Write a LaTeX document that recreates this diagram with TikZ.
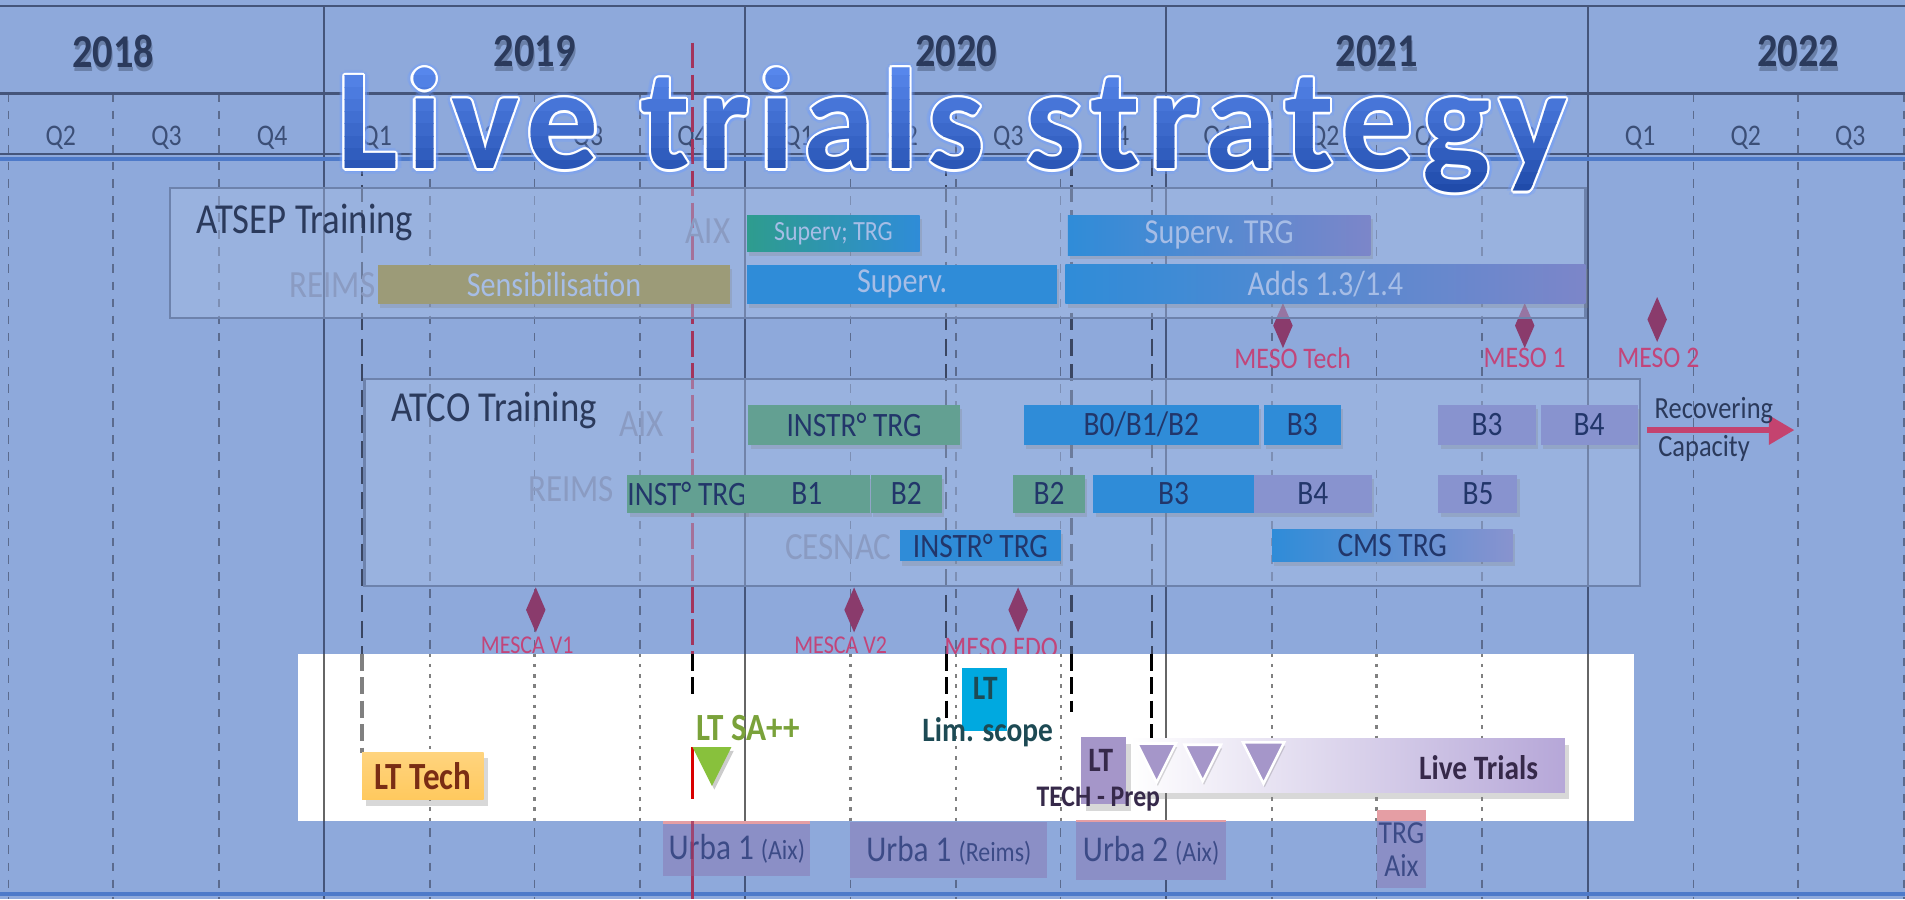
\documentclass[tikz,border=0pt]{standalone}
\usepackage{fontspec}
\setmainfont{Carlito}[FakeStretch=0.86]
\newfontfamily\titlefont{Carlito}[LetterSpace=6.2]
\usetikzlibrary{shapes.geometric,shadows,arrows.meta,calc}
\definecolor{bgblue}{HTML}{8EA9DB}
\definecolor{gridink}{HTML}{45557A}
\definecolor{dashink}{HTML}{5B6B8E}
\definecolor{markink}{HTML}{3A4662}
\definecolor{redink}{HTML}{A3345C}
\definecolor{yearink}{HTML}{2B3A5C}
\definecolor{quarterink}{HTML}{3C4F77}
\definecolor{headblue}{HTML}{4E7AC9}
\definecolor{boxfill}{HTML}{A8BDE4}
\definecolor{boxedge}{HTML}{6D82AC}
\definecolor{siteink}{HTML}{8A9BC2}
\definecolor{lightink}{HTML}{A6BDE6}
\definecolor{darkink}{HTML}{22366A}
\definecolor{tealbar}{HTML}{2E9C8E}
\definecolor{barblue}{HTML}{2F8CD8}
\definecolor{barpurple}{HTML}{7C86C9}
\definecolor{olivebar}{HTML}{9C9B78}
\definecolor{greenbar}{HTML}{63A092}
\definecolor{lavbar}{HTML}{8893CF}
\definecolor{diamink}{HTML}{8A3B6C}
\definecolor{mileink}{HTML}{C2457A}
\definecolor{arrowink}{HTML}{C4436F}
\definecolor{lttechfill}{HTML}{FFC95E}
\definecolor{lttechink}{HTML}{7A2D14}
\definecolor{ltgreen}{HTML}{7AA23A}
\definecolor{trigreen}{HTML}{88C13C}
\definecolor{ltcyan}{HTML}{00A9E0}
\definecolor{limink}{HTML}{1D4A54}
\definecolor{lavfill}{HTML}{A596C9}
\definecolor{lavend}{HTML}{B6A7D8}
\definecolor{lavink}{HTML}{36294A}
\definecolor{urbafill}{HTML}{8B8FC6}
\definecolor{urbaink}{HTML}{3C4B87}
\definecolor{urbapink}{HTML}{E59EA4}
\definecolor{titletop}{HTML}{5787EC}
\definecolor{titlebottom}{HTML}{1A44A3}
\definecolor{titleglow}{HTML}{6E9CFF}
\newcommand{\boxat}[7]{%
  \node[#6, minimum width={(#4-#2)*0.01cm}, minimum height={(#5-#3)*0.01cm}] (#1) at ({(#2+#4)/2},{(#3+#5)/2}) {#7};}
\newcommand{\downtri}[4]{\filldraw[#4] ({#1-#3},{#2-#3}) -- ({#1+#3},{#2-#3}) -- (#1,{#2+#3}) -- cycle;}
\newcommand{\titlestr}{Live trials strategy}

\begin{document}
\begin{tikzpicture}[x=0.01cm, y=-0.01cm,
  every node/.style={inner sep=0pt, outer sep=0pt},
  yearlbl/.style={font=\fontsize{11}{13}\selectfont\bfseries, text=yearink},
  quarterlbl/.style={font=\fontsize{7}{8}\selectfont, text=quarterink},
  gridyear/.style={draw=gridink, line width=0.45pt},
  gridquarter/.style={draw=dashink, line width=0.4pt, dash pattern=on 2pt off 2pt},
  markline/.style={draw=markink, line width=0.5pt, dash pattern=on 4pt off 2pt},
  redline/.style={draw=redink, line width=0.6pt, dash pattern=on 6pt off 1.5pt},
  grpbox/.style={draw=boxedge, line width=0.5pt, fill=boxfill, fill opacity=0.45},
  grptitle/.style={font=\fontsize{10}{12}\selectfont, text=yearink},
  sitelbl/.style={font=\fontsize{9}{11}\selectfont, text=siteink},
  ganttbar/.style={drop shadow={shadow xshift=0.5pt, shadow yshift=-1pt, opacity=0.25},
    font=\fontsize{8}{9}\selectfont, text=darkink},
  atsepbar/.style={ganttbar, text=lightink, font=\fontsize{8.2}{9}\selectfont},
  milestone/.style={diamond, fill=diamink, minimum width=0.16cm, minimum height=0.37cm},
  milelbl/.style={font=\fontsize{7}{8}\selectfont, text=mileink},
  mescalbl/.style={font=\fontsize{6}{7}\selectfont, text=mileink},
  panelgrid/.style={draw=gray!80!black, line width=0.45pt},
  paneldot/.style={draw=gray, line width=0.5pt, dash pattern=on 0.8pt off 1.6pt},
  panelmark/.style={draw=black, line width=0.75pt, dash pattern=on 4pt off 1.5pt},
  ltbox/.style={drop shadow={shadow xshift=1pt, shadow yshift=-1.5pt, opacity=0.3}},
  ltlbl/.style={font=\fontsize{9}{10}\selectfont\bfseries},
  urba/.style={fill=urbafill, font=\fontsize{8.5}{9}\selectfont, text=urbaink},
  titletxt/.style={font=\titlefont\bfseries\fontsize{33.6}{36}\selectfont, anchor=base}]

  \useasboundingbox (0,0) rectangle (1568,740);
  \fill[bgblue] (0,0) rectangle (1568,740);

  % time grid
  \foreach \qx in {7,93,180,354,440,527,700,787,873,1047,1133,1220,1394,1480,1567}
    \draw[gridquarter] (\qx,77) -- (\qx,740);
  \foreach \yx in {267,613,960,1307}
    \draw[gridyear] (\yx,5) -- (\yx,740);
  \draw[gridyear] (0,5) -- (1568,5);
  \draw[gridyear, line width=0.6pt] (0,77) -- (1568,77);
  \draw[gridyear] (0,127) -- (1568,127);
  \draw[headblue, line width=0.9pt] (0,131) -- (1568,131);
  \draw[headblue, line width=0.9pt] (0,736) -- (1568,736);

  \foreach \yx/\yr in {93/2018,440/2019,787/2020,1133/2021,1480/2022} {
    \node[yearlbl, text=yearink!60!black, opacity=0.3] (yshadow\yr) at ({\yx+1},46) {\yr};
    \node[yearlbl] (year\yr) at (\yx,42) {\yr};
  }
  \foreach \qx/\ql [count=\n] in {50/Q2,137/Q3,224/Q4,310/Q1,397/Q2,484/Q3,570/Q4,657/Q1,743/Q2,830/Q3,
      917/Q4,1003/Q1,1090/Q2,1177/Q3,1263/Q4,1350/Q1,1437/Q2,1523/Q3}
    \node[quarterlbl] (quarter\n) at (\qx,113) {\ql};

  \draw[redline] (570,35) -- (570,740);
  \foreach \mx in {298,779,882,948}
    \draw[markline] (\mx,131) -- (\mx,538);

  % milestones behind the boxes
  \node[milestone] (mesotech) at (1056,268) {};
  \node[milestone] (mesoone) at (1255,268) {};
  \node[milestone] (mesotwo) at (1364,263) {};
  \node[milelbl] (mesotechlbl) at (1064,295) {MESO Tech};
  \node[milelbl] (mesoonelbl) at (1255,295) {MESO 1};
  \node[milelbl] (mesotwolbl) at (1365,295) {MESO 2};

  \boxat{atsep}{140}{155}{1305}{262}{grpbox}{}
  \boxat{atco}{300}{312}{1350}{482}{grpbox}{}

  \node[grptitle, anchor=west] (atseptitle) at (162,183) {ATSEP Training};
  \node[sitelbl, anchor=east] (atsepaix) at (601,190) {AIX};
  \node[sitelbl, anchor=east] (atsepreims) at (309,235) {REIMS};
  \boxat{supaix}{615}{177}{757}{207}{atsepbar, left color=tealbar, right color=barblue, font=\fontsize{6.5}{7}\selectfont}{Superv; TRG}
  \boxat{sensib}{311}{218}{601}{250}{atsepbar, fill=olivebar}{Sensibilisation}
  \boxat{supreims}{615}{218}{870}{250}{atsepbar, fill=barblue}{Superv.}
  \boxat{suptrg}{879}{177}{1128}{210}{atsepbar, left color=barblue, right color=barpurple}{Superv. TRG}
  \boxat{adds}{877}{218}{1305}{250}{atsepbar, left color=barblue, right color=barpurple}{Adds 1.3/1.4}

  \node[grptitle, anchor=west] (atcotitle) at (322,338) {ATCO Training};
  \node[sitelbl] (atcoaix) at (528,349) {AIX};
  \node[sitelbl] (atcoreims) at (470,403) {REIMS};
  \node[sitelbl] (atcocesnac) at (690,450) {CESNAC};
  \boxat{instraix}{616}{333}{790}{366}{ganttbar, fill=greenbar}{INSTR° TRG}
  \boxat{bzeroaix}{843}{333}{1036}{366}{ganttbar, fill=barblue}{B0/B1/B2}
  \boxat{bthreeaix}{1040}{333}{1104}{366}{ganttbar, fill=barblue}{B3}
  \boxat{bthreeaixb}{1184}{333}{1264}{366}{ganttbar, fill=lavbar}{B3}
  \boxat{bfouraix}{1268}{333}{1348}{366}{ganttbar, fill=lavbar}{B4}
  \boxat{instreims}{519}{391}{612}{422}{ganttbar, fill=greenbar}{INST° TRG}
  \boxat{bonereims}{612}{391}{716}{422}{ganttbar, fill=greenbar}{B1}
  \boxat{btworeims}{717}{391}{775}{422}{ganttbar, fill=greenbar}{B2}
  \boxat{btworeimsb}{834}{391}{893}{422}{ganttbar, fill=greenbar}{B2}
  \boxat{bthreereims}{900}{391}{1032}{422}{ganttbar, fill=barblue}{B3}
  \boxat{bfourreims}{1032}{391}{1129}{422}{ganttbar, fill=lavbar}{B4}
  \boxat{bfivereims}{1184}{391}{1249}{422}{ganttbar, fill=lavbar}{B5}
  \boxat{instcesnac}{741}{436}{873}{462}{ganttbar, fill=barblue}{INSTR° TRG}
  \boxat{cmstrg}{1047}{436}{1245}{462}{ganttbar, left color=barblue, right color=lavbar}{CMS TRG}

  \coordinate (recstart) at (1356,354);
  \coordinate (recend) at (1477,354);
  \draw[arrowink, line width=0.5mm, -{Triangle[length=2.1mm, width=2.3mm]},
    drop shadow={shadow xshift=0.5pt, shadow yshift=-1pt, opacity=0.2}] (recstart) -- (recend);
  \node[font=\fontsize{7.2}{8}\selectfont, text=yearink, anchor=west] (recov) at (1362,338) {Recovering};
  \node[font=\fontsize{7.2}{8}\selectfont, text=yearink, anchor=west] (capac) at (1365,369) {Capacity};

  \node[milestone] (mescaone) at (441,502) {};
  \node[milestone] (mescatwo) at (703,502) {};
  \node[milestone] (mesofdo) at (838,502) {};
  \node[mescalbl] (mescaonelbl) at (434,531) {MESCA V1};
  \node[mescalbl] (mescatwolbl) at (692,531) {MESCA V2};
  \node[milelbl] (mesofdolbl) at (824,533) {MESO FDO};

  % live trials panel
  \fill[white] (245,538) rectangle (1345,676);
  \foreach \yx in {267,613,960,1307}
    \draw[panelgrid] (\yx,538) -- (\yx,676);
  \foreach \qx in {354,440,527,700,787,873,1047,1133,1220}
    \draw[paneldot] (\qx,538) -- (\qx,676);
  \draw[panelmark, draw=gray] (298,538) -- (298,620);
  \draw[panelmark] (570,538) -- (570,576);
  \draw[red!85!black, line width=0.85pt] (570,615) -- (570,658);
  \draw[panelmark] (779,538) -- (779,593);
  \draw[panelmark] (882,538) -- (882,586);
  \draw[panelmark] (948,538) -- (948,613);

  \boxat{lttech}{298}{619}{398}{658}{ltbox, top color=lttechfill!80!white, bottom color=lttechfill, ltlbl, text=lttechink}{LT Tech}
  \node[ltlbl, text=ltgreen, anchor=west] (ltsa) at (573,599) {LT SA++};
  \downtri{588}{634}{16}{black, opacity=0.2, draw=none}
  \downtri{586}{631}{16}{trigreen, draw=none}

  \boxat{ltlim}{792}{550}{829}{602}{fill=ltcyan}{}
  \node[ltlbl, font=\fontsize{8}{9}\selectfont\bfseries, text=limink] (ltlimtxt) at (811,567) {LT};
  \node[ltlbl, font=\fontsize{8}{9}\selectfont\bfseries, text=limink] (limscope) at (813,603) {Lim. scope};

  \boxat{livebar}{930}{608}{1288}{652}{ltbox, left color=white, right color=lavend}{}
  \node[ltlbl, font=\fontsize{8}{9}\selectfont\bfseries, text=lavink] (livetxt) at (1217,632) {Live Trials};
  \boxat{ltprep}{890}{607}{927}{662}{ltbox, fill=lavfill}{}
  \node[ltlbl, font=\fontsize{8}{9}\selectfont\bfseries, text=lavink] (ltpreptxt) at (906,626) {LT};
  \node[ltlbl, font=\fontsize{7}{8}\selectfont\bfseries, text=lavink] (techprep) at (904,658) {TECH - Prep};
  \foreach \tx/\th in {952/16,990/15,1040/17} {
    \downtri{\tx+1}{631}{\th}{black, opacity=0.15, draw=none}
    \downtri{\tx}{628}{\th}{fill=lavfill, draw=white, line width=0.6pt}
  }

  % lower row
  \boxat{urbaaix}{546}{677}{667}{721}{urba}{Urba 1 {\fontsize{6.5}{7}\selectfont(Aix)}}
  \boxat{urbareims}{700}{677}{862}{723}{urba}{Urba 1 {\fontsize{6.5}{7}\selectfont(Reims)}}
  \boxat{urbatwo}{886}{676}{1009}{724}{urba}{Urba 2 {\fontsize{6.5}{7}\selectfont(Aix)}}
  \draw[urbapink, line width=0.5pt] (urbaaix.north west) -- (urbaaix.north east);
  \draw[urbapink, line width=0.5pt] (urbatwo.north west) -- (urbatwo.north east);
  \boxat{trgaix}{1133}{667}{1174}{731}{urba, align=center, font=\fontsize{7.5}{7.7}\selectfont}{TRG\\Aix}
  \fill[urbapink] (trgaix.north west) rectangle ($(trgaix.north east)+(0,9)$);
  \draw[redink, line width=0.6pt, opacity=0.8] (570,676) -- (570,740);

  % title
  \foreach \ang [count=\n] in {0,45,...,315}
    \node[titletxt, text=titleglow, opacity=0.3] (glow\n) at ($(784,139)+(\ang:4.5)$) {\titlestr};
  \foreach \ang [count=\n] in {0,30,...,330}
    \node[titletxt, text=white] (outline\n) at ($(784,139)+(\ang:1.8)$) {\titlestr};
  \foreach \band [evaluate=\band as \mixpct using {int(100-\band*9)}] in {0,...,11} {
    \begin{scope}
      \clip (250,{52+\band*10}) rectangle (1320,{62+\band*10});
      \node[titletxt, text=titletop!\mixpct!titlebottom] (titleband\band) at (784,139) {\titlestr};
    \end{scope}
  }

\end{tikzpicture}
\end{document}
